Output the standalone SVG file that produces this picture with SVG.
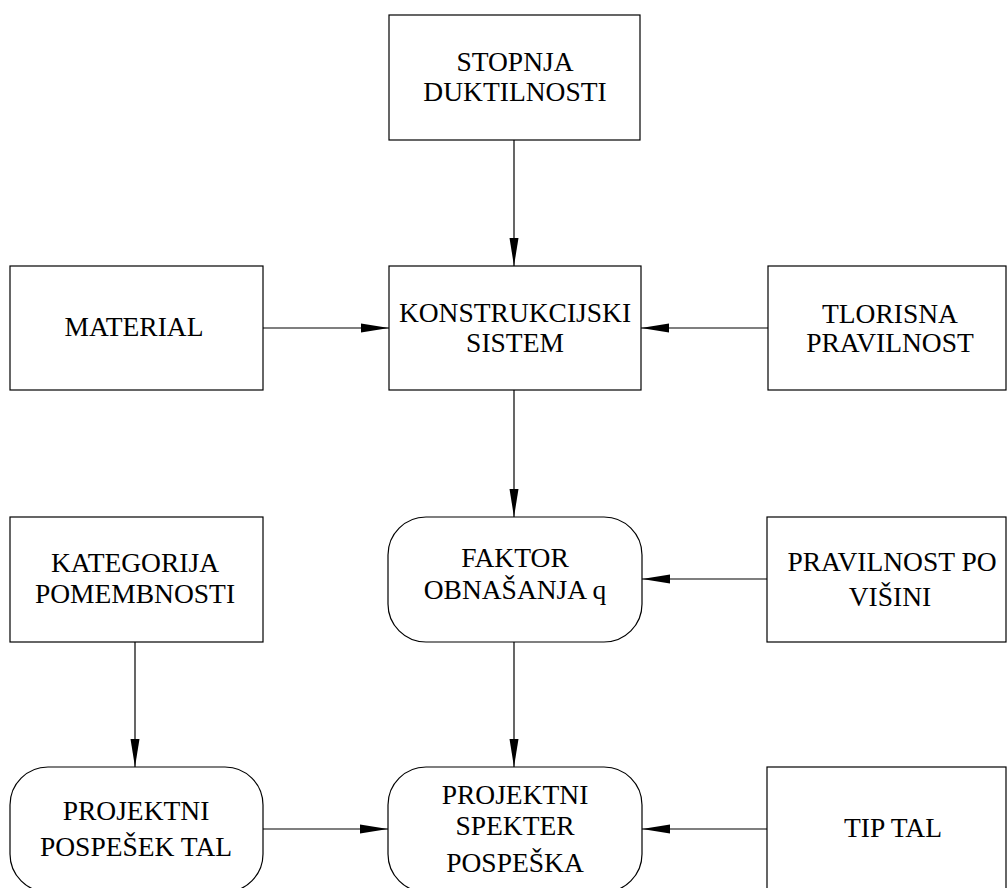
<svg xmlns="http://www.w3.org/2000/svg" width="1008" height="888" viewBox="0 0 1008 888">
  <style>
    .box { fill: #fff; stroke: #000; stroke-width: 1.2; }
    .lbl { font-family: "Liberation Serif", "Times New Roman", serif; font-size: 27.5px; fill: #000; text-anchor: middle; }
    .edge { fill: none; stroke: #000; stroke-width: 1.2; marker-end: url(#arrow); }
  </style>
  <defs>
    <marker id="arrow" markerUnits="userSpaceOnUse" markerWidth="28" markerHeight="12" viewBox="0 0 28 12" refX="28" refY="6" orient="auto">
      <path d="M0,1.5 L28,6 L0,10.5 Z" fill="#000"/>
    </marker>
  </defs>

  <rect width="1008" height="888" fill="#fff"/>

  <!-- connectors -->
  <g id="connectors">
    <line class="edge" x1="514" y1="140" x2="514" y2="266"/>
    <line class="edge" x1="263" y1="328" x2="389" y2="328"/>
    <line class="edge" x1="768" y1="328" x2="641" y2="328"/>
    <line class="edge" x1="514" y1="390" x2="514" y2="517"/>
    <line class="edge" x1="767" y1="579" x2="642" y2="579"/>
    <line class="edge" x1="135" y1="642" x2="135" y2="767"/>
    <line class="edge" x1="514" y1="642" x2="514" y2="767"/>
    <line class="edge" x1="263" y1="829" x2="388" y2="829"/>
    <line class="edge" x1="767" y1="829" x2="642" y2="829"/>
  </g>

  <!-- row 1 -->
  <g id="stopnja">
    <rect class="box" x="389" y="15" width="251" height="125"/>
    <text class="lbl" x="515" y="71">STOPNJA</text>
    <text class="lbl" x="515" y="101">DUKTILNOSTI</text>
  </g>

  <!-- row 2 -->
  <g id="material">
    <rect class="box" x="10" y="266" width="253" height="124"/>
    <text class="lbl" x="134" y="336">MATERIAL</text>
  </g>
  <g id="konstrukcijski">
    <rect class="box" x="389" y="266" width="252" height="124"/>
    <text class="lbl" x="515" y="322">KONSTRUKCIJSKI</text>
    <text class="lbl" x="515" y="352">SISTEM</text>
  </g>
  <g id="tlorisna">
    <rect class="box" x="768" y="266" width="238" height="124"/>
    <text class="lbl" x="890" y="323">TLORISNA</text>
    <text class="lbl" x="890" y="352">PRAVILNOST</text>
  </g>

  <!-- row 3 -->
  <g id="kategorija">
    <rect class="box" x="10" y="517" width="253" height="125"/>
    <text class="lbl" x="135" y="572">KATEGORIJA</text>
    <text class="lbl" x="135" y="603">POMEMBNOSTI</text>
  </g>
  <g id="faktor">
    <rect class="box" x="388" y="517" width="254" height="125" rx="38" ry="38"/>
    <text class="lbl" x="515" y="567">FAKTOR</text>
    <text class="lbl" x="515" y="599">OBNAŠANJA q</text>
  </g>
  <g id="pravilnost-visina">
    <rect class="box" x="767" y="517" width="239" height="125"/>
    <text class="lbl" x="892" y="571">PRAVILNOST PO</text>
    <text class="lbl" x="890" y="606">VIŠINI</text>
  </g>

  <!-- row 4 -->
  <g id="pospesek">
    <rect class="box" x="10" y="767" width="253" height="125" rx="38" ry="38"/>
    <text class="lbl" x="136" y="820">PROJEKTNI</text>
    <text class="lbl" x="136" y="856">POSPEŠEK TAL</text>
  </g>
  <g id="spekter">
    <rect class="box" x="388" y="767" width="254" height="125" rx="38" ry="38"/>
    <text class="lbl" x="515" y="804">PROJEKTNI</text>
    <text class="lbl" x="515" y="835">SPEKTER</text>
    <text class="lbl" x="515" y="872">POSPEŠKA</text>
  </g>
  <g id="tip-tal">
    <rect class="box" x="767" y="767" width="239" height="125"/>
    <text class="lbl" x="893" y="837">TIP TAL</text>
  </g>
</svg>
